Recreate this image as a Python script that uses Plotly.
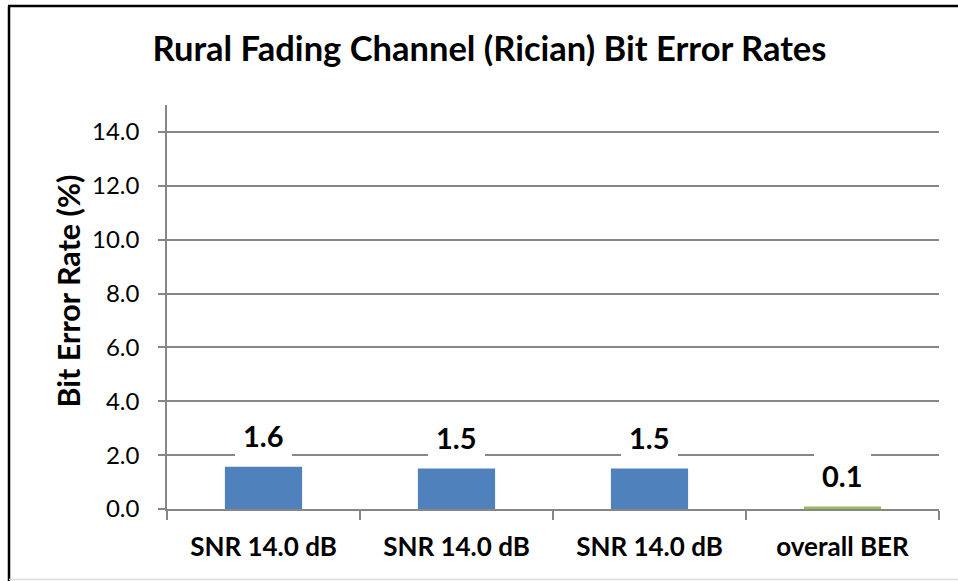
import plotly.graph_objects as go

categories = ["SNR 14.0 dB", "SNR 14.0 dB ", "SNR 14.0 dB  ", "overall BER"]
values = [1.57, 1.5, 1.5, 0.09]
bar_colors = ["#4F81BD", "#4F81BD", "#4F81BD", "#9BBB59"]
y_tick_vals = [0, 2, 4, 6, 8, 10, 12, 14]

W, H = 958, 581
ML, MR, MT, MB = 167, 19, 105, 72
PW, PH = W - ML - MR, H - MT - MB

def px_x(px):
    return (px - ML) / PW

def px_y(py):
    return (H - MB - py) / PH

FONT = "Lato"
GRID = "#878787"

fig = go.Figure()
fig.add_trace(go.Bar(
    x=categories, y=values, marker=dict(color=bar_colors, line=dict(width=0)),
    width=0.4, showlegend=False, hoverinfo="skip",
))

annotations = []
for c, v in zip(categories, values):
    annotations.append(dict(
        x=c, y=v, xref="x", yref="y", text=f"<b>{v:.1f}</b>", showarrow=False,
        yanchor="bottom", yshift=6, bgcolor="white", borderpad=8, borderwidth=0,
        font=dict(family=FONT, size=29, color="#000000"),
    ))

annotations.append(dict(
    x=px_x(67), y=px_y(291.5), xref="paper", yref="paper", text="<b>Bit Error Rate (%)</b>",
    textangle=-90, showarrow=False, xanchor="center", yanchor="middle",
    font=dict(family=FONT, size=30.5, color="#000000"),
))

shapes = [
    dict(type="line", xref="paper", yref="paper", x0=px_x(9), x1=px_x(9), y0=px_y(6), y1=px_y(581), line=dict(color="black", width=2.5)),
    dict(type="line", xref="paper", yref="paper", x0=px_x(8), x1=px_x(958), y0=px_y(6), y1=px_y(6), line=dict(color="black", width=2.5)),
    dict(type="line", xref="paper", yref="paper", x0=px_x(9), x1=px_x(958), y0=px_y(579.5), y1=px_y(579.5), line=dict(color="#D9D9D9", width=1.5)),
]

fig.update_layout(
    width=W, height=H,
    margin=dict(l=ML, r=MR, t=MT, b=MB, pad=0),
    paper_bgcolor="white", plot_bgcolor="white",
    title=dict(text="<b>Rural Fading Channel (Rician) Bit Error Rates</b>", x=489.5 / W, xanchor="center",
               y=1 - 49 / H, yanchor="middle", font=dict(family=FONT, size=34.5, color="#000000")),
    annotations=annotations, shapes=shapes,
    bargap=0.6,
    xaxis=dict(
        type="category", showgrid=False, showline=True, linecolor=GRID, linewidth=1.5,
        ticks="outside", tickson="boundaries", ticklen=9, tickcolor=GRID, tickwidth=1.5,
        tickfont=dict(family=FONT, size=26, color="#000000"), ticklabelstandoff=14,
        tickvals=categories, ticktext=["<b>" + c.strip() + "</b>" for c in categories],
        fixedrange=True,
    ),
    yaxis=dict(
        range=[0, 15], tickvals=y_tick_vals, ticktext=[f"{t:.1f}" for t in y_tick_vals],
        showgrid=True, gridcolor=GRID, gridwidth=1.5,
        showline=True, linecolor=GRID, linewidth=1.5, zeroline=False,
        ticks="outside", ticklen=7, tickcolor=GRID, tickwidth=1.5,
        tickfont=dict(family=FONT, size=24, color="#000000"), ticklabelstandoff=14,
        fixedrange=True,
    ),
)

fig.write_html("out.html", config={"displayModeBar": False},
               post_script="document.body.style.margin='0';document.body.style.overflow='hidden';")
